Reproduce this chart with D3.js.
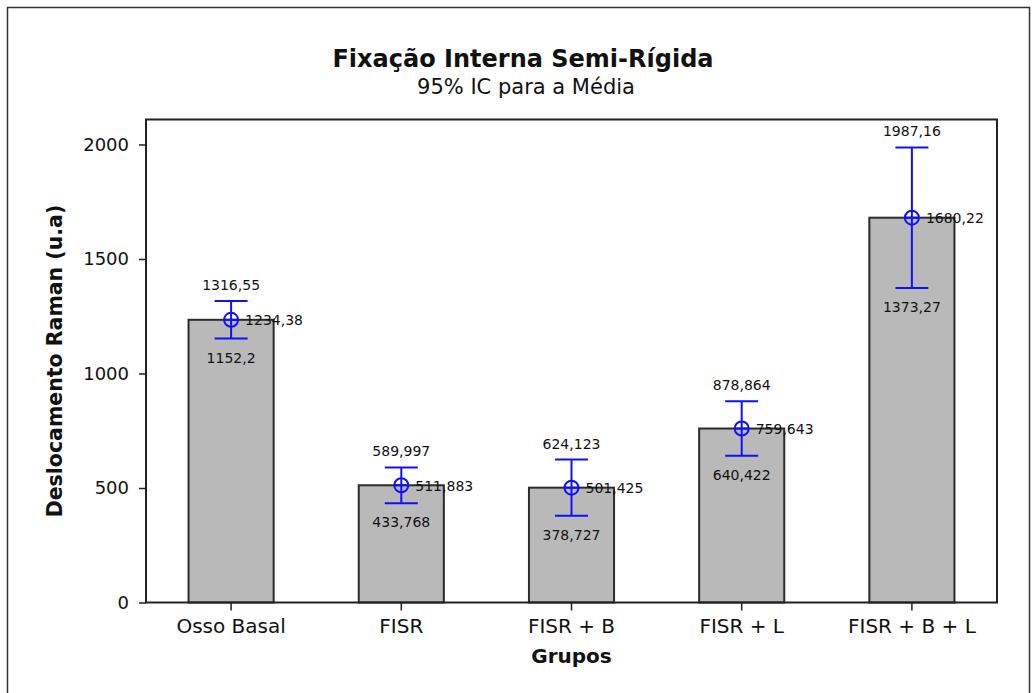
<!DOCTYPE html>
<html>
<head>
<meta charset="utf-8">
<script src="https://cdn.jsdelivr.net/npm/d3@7"></script>
<style>
  html, body { margin: 0; padding: 0; background: #fff; }
  svg { display: block; font-family: "DejaVu Sans", Verdana, sans-serif; }
</style>
</head>
<body>
<svg id="chart" width="1035" height="693"></svg>
<script>
// Groups and their 95% confidence intervals for the mean
const categories = ["Osso Basal", "FISR", "FISR + B", "FISR + L", "FISR + B + L"];
const means = [1234.38, 511.883, 501.425, 759.643, 1680.22];
const upper = [1316.55, 589.997, 624.123, 878.864, 1987.16];
const lower = [1152.2, 433.768, 378.727, 640.422, 1373.27];
const yTicks = [0, 500, 1000, 1500, 2000];

const rows = categories.map((c, i) => ({ cat: c, mean: means[i], hi: upper[i], lo: lower[i] }));

const W = 1035, H = 693;
const frame = { left: 146, right: 997, top: 119.5, bottom: 602.5 };

const svg = d3.select("#chart");

// outer border of the figure
svg.append("rect")
  .attr("x", 7.5).attr("y", 7.5)
  .attr("width", 1022).attr("height", 700)
  .attr("fill", "none").attr("stroke", "#333").attr("stroke-width", 1.5);

const x = d3.scaleBand()
  .domain(categories)
  .range([frame.left, frame.right])
  .paddingInner(0.5).paddingOuter(0.25);

const y = d3.scaleLinear()
  .domain([0, 2109])
  .range([frame.bottom, frame.top]);

const ptBR = d3.formatLocale({ decimal: ",", thousands: ".", grouping: [3], currency: ["", ""] });
const fmt = ptBR.format(".6~r");

// bars
svg.append("g").selectAll("rect")
  .data(rows).join("rect")
  .attr("x", d => x(d.cat))
  .attr("y", d => y(d.mean))
  .attr("width", x.bandwidth())
  .attr("height", d => y(0) - y(d.mean))
  .attr("fill", "#b9b9b9")
  .attr("stroke", "#2b2b2b")
  .attr("stroke-width", 2);

// plot frame
svg.append("rect")
  .attr("x", frame.left).attr("y", frame.top)
  .attr("width", frame.right - frame.left)
  .attr("height", frame.bottom - frame.top)
  .attr("fill", "none").attr("stroke", "#222").attr("stroke-width", 2);

// y axis
const yAxis = svg.append("g")
  .attr("transform", `translate(${frame.left},0)`)
  .call(d3.axisLeft(y).tickValues(yTicks).tickSize(7).tickPadding(10).tickFormat(d3.format("d")));
yAxis.select(".domain").remove();
yAxis.selectAll(".tick line").attr("stroke", "#222").attr("stroke-width", 1.5);
yAxis.selectAll(".tick text")
  .attr("font-family", "DejaVu Sans, sans-serif")
  .attr("font-size", 18).attr("fill", "#111");

// x axis
const xAxis = svg.append("g")
  .attr("transform", `translate(0,${frame.bottom})`)
  .call(d3.axisBottom(x).tickSize(8).tickPadding(8));
xAxis.select(".domain").remove();
xAxis.selectAll(".tick line").attr("stroke", "#222").attr("stroke-width", 1.5);
xAxis.selectAll(".tick text")
  .attr("font-family", "DejaVu Sans, sans-serif")
  .attr("font-size", 20).attr("fill", "#111");

// confidence intervals
const blue = "#1010ff";
const cap = 16.5;
const ci = svg.append("g").selectAll("g").data(rows).join("g")
  .attr("transform", d => `translate(${x(d.cat) + x.bandwidth() / 2},0)`);

ci.append("line")
  .attr("x1", 0).attr("x2", 0)
  .attr("y1", d => y(d.hi)).attr("y2", d => y(d.lo))
  .attr("stroke", blue).attr("stroke-width", 2);
ci.append("line")
  .attr("x1", -cap).attr("x2", cap)
  .attr("y1", d => y(d.hi)).attr("y2", d => y(d.hi))
  .attr("stroke", blue).attr("stroke-width", 2);
ci.append("line")
  .attr("x1", -cap).attr("x2", cap)
  .attr("y1", d => y(d.lo)).attr("y2", d => y(d.lo))
  .attr("stroke", blue).attr("stroke-width", 2);
ci.append("circle")
  .attr("cx", 0).attr("cy", d => y(d.mean)).attr("r", 7)
  .attr("fill", "none").attr("stroke", blue).attr("stroke-width", 2);
ci.append("line")
  .attr("x1", -7).attr("x2", 7)
  .attr("y1", d => y(d.mean)).attr("y2", d => y(d.mean))
  .attr("stroke", blue).attr("stroke-width", 2);

// value labels
const lbl = (sel) => sel.attr("font-size", 14).attr("fill", "#111");
ci.append("text").call(lbl)
  .attr("text-anchor", "middle")
  .attr("y", d => y(d.hi) - 11)
  .text(d => fmt(d.hi));
ci.append("text").call(lbl)
  .attr("text-anchor", "middle")
  .attr("y", d => y(d.lo) + 24)
  .text(d => fmt(d.lo));
ci.append("text").call(lbl)
  .attr("text-anchor", "start")
  .attr("x", 14)
  .attr("y", d => y(d.mean) + 5.5)
  .text(d => fmt(d.mean));

// titles
svg.append("text")
  .attr("x", 523).attr("y", 67)
  .attr("text-anchor", "middle")
  .attr("font-size", 24).attr("font-weight", "bold").attr("fill", "#111")
  .text("Fixação Interna Semi-Rígida");
svg.append("text")
  .attr("x", 526).attr("y", 94)
  .attr("text-anchor", "middle")
  .attr("font-size", 21).attr("fill", "#111")
  .text("95% IC para a Média");

svg.append("text")
  .attr("x", (frame.left + frame.right) / 2).attr("y", 663)
  .attr("text-anchor", "middle")
  .attr("font-size", 20).attr("font-weight", "bold").attr("fill", "#111")
  .text("Grupos");

svg.append("text")
  .attr("transform", `translate(62,${(frame.top + frame.bottom) / 2}) rotate(-90)`)
  .attr("text-anchor", "middle")
  .attr("font-size", 20.5).attr("font-weight", "bold").attr("fill", "#111")
  .text("Deslocamento Raman (u.a)");
</script>
</body>
</html>
